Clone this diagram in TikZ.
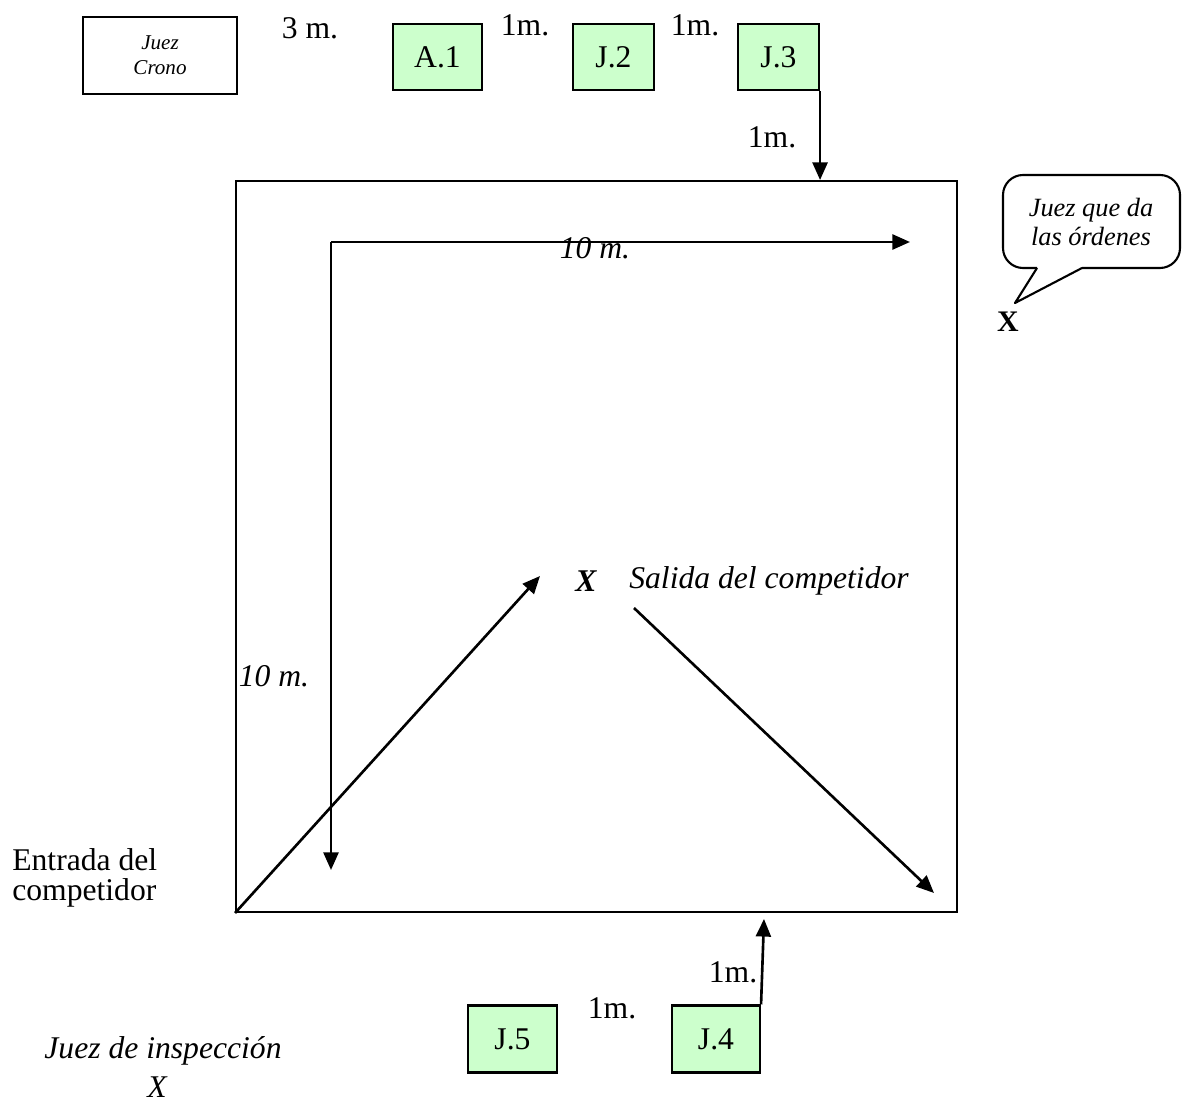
\documentclass[tikz,border=0pt]{standalone}
\usepackage{fontspec}
\setmainfont{Liberation Serif}
\usetikzlibrary{arrows.meta}
\definecolor{juezgreen}{HTML}{CCFFCC}
\tikzset{
  juez/.style={draw, line width=1.2pt, fill=juezgreen, minimum height=1.32cm, inner sep=0pt, font=\fontsize{18}{17}\selectfont},
  txt/.style={inner sep=0pt, font=\fontsize{18}{17}\selectfont},
  flecha/.style={line width=1.5pt, -{Triangle[length=10pt,width=8.5pt]}}
}
\begin{document}
\begin{tikzpicture}[x=0.02cm,y=-0.02cm]
\useasboundingbox (0,0) rectangle (1183,1104);

\node[draw, line width=1.2pt, minimum width=3.08cm, minimum height=1.54cm, align=center, font=\fontsize{12}{14}\selectfont\itshape] (crono) at (160,55.5) {Juez\\Crono};
\node[juez, minimum width=1.78cm] (a1) at (437.5,57) {A.1};
\node[juez, minimum width=1.62cm] (j2) at (613.5,57) {J.2};
\node[juez, minimum width=1.62cm] (j3) at (778.5,57) {J.3};
\node[txt] (d3) at (310,28) {3 m.};
\node[txt] (d1) at (525,25) {1m.};
\node[txt] (d2) at (695,25) {1m.};
\node[txt] (d4) at (772,137) {1m.};

\node[draw, line width=1.2pt, minimum width=14.42cm, minimum height=14.62cm] (field) at (596.5,546.5) {};
\draw[flecha] (j3.south east) -- (j3.south east |- field.north);

\coordinate (corner) at (331,242);
\coordinate (east) at (910,242);
\coordinate (south) at (331,870);
\draw[flecha] (corner) -- (east);
\draw[flecha] (corner) -- (south);
\node[txt, font=\fontsize{18}{17}\selectfont\itshape] (largo) at (595,248) {10 m.};
\node[txt, font=\fontsize{18}{17}\selectfont\itshape] (ancho) at (274,676) {10 m.};

\coordinate (salidaIn) at (540,576);
\coordinate (salidaOut) at (634,608);
\coordinate (esquina) at (934,893);
\draw[flecha] (field.south west) -- (salidaIn);
\draw[flecha] (salidaOut) -- (esquina);
\node[txt, font=\fontsize{18}{17}\selectfont\bfseries\itshape] (xsalida) at (586,581) {X};
\node[txt, font=\fontsize{18}{17}\selectfont\itshape, anchor=west] (salida) at (629,581) {Salida del competidor};
\node[txt, align=left, anchor=north west] (entrada) at (12,848) {Entrada del\\competidor};

\node[juez, minimum width=1.78cm, minimum height=1.34cm] (j5) at (512.5,1039) {J.5};
\node[juez, minimum width=1.76cm, minimum height=1.34cm] (j4) at (716,1039) {J.4};
\node[txt] (d5) at (612,1008) {1m.};
\node[txt] (d6) at (733,972) {1m.};
\coordinate (j4top) at (764,919);
\draw[flecha] (j4.north east) -- (j4top);

\node[txt, font=\fontsize{18}{17}\selectfont\itshape] (inspeccion) at (163,1051) {Juez de inspección};
\node[txt, font=\fontsize{18}{17}\selectfont\itshape] (xinspeccion) at (157,1087) {X};

\node[txt, align=center, font=\fontsize{15}{16.5}\selectfont\itshape] (ordenes) at (1091,222) {Juez que da\\las órdenes};
\coordinate (tailL) at (1037,268);
\coordinate (tailR) at (1082,268);
\coordinate (tip) at (1015,303);
\draw[line width=1.2pt, rounded corners=0.4cm] (tailL) -- (1003,268) -- (1003,175) -- (1180,175) -- (1180,268) -- (tailR);
\draw[line width=1.2pt, line join=round] (tailR) -- (tip) -- (tailL);
\node[txt, font=\fontsize{17}{17}\selectfont\bfseries] (xordenes) at (1008,322) {X};
\end{tikzpicture}
\end{document}
